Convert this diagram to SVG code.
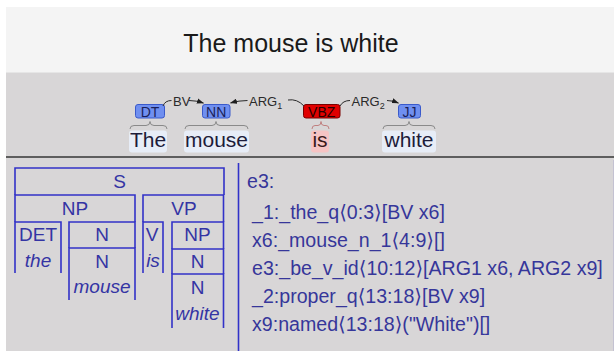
<svg xmlns="http://www.w3.org/2000/svg" width="614" height="351" viewBox="0 0 614 351">
  <style>
    .title { font-family: "Liberation Sans", Arial, sans-serif; font-size: 25px; fill: #1a1a1a; text-anchor: middle; }
    .word { font-family: "Liberation Sans", Arial, sans-serif; font-size: 21px; fill: #1c1c3a; text-anchor: middle; }
    .tag { stroke-width: 1; }
    .tag-nn { fill: #6f8ff0; stroke: #3a5acb; }
    .tag-vb { fill: #e00000; stroke: #7a0000; }
    .tagtext { font-family: "Liberation Sans", Arial, sans-serif; font-size: 14px; text-anchor: middle; fill: #1a1f5a; }
    .tagtext-vb { fill: #2a0000; }
    .wordbg { fill: #e7edf7; }
    .wordbg-vb { fill: #f6c4c4; }
    .brace { fill: none; stroke: #8a8a8a; stroke-width: 1; }
    .arc { fill: none; stroke: #2a2a2a; stroke-width: 1; }
    .arclabel { font-family: "Liberation Sans", Arial, sans-serif; font-size: 13px; fill: #2a2a2a; }
    .sub { font-size: 9px; }
    .cell { fill: none; stroke: #3232c8; stroke-width: 1.6; }
    .lbl { font-family: "Liberation Sans", Arial, sans-serif; font-size: 19px; fill: #3434a4; text-anchor: middle; }
    .lex { font-style: italic; }
    .mrs { font-family: "Liberation Sans", "DejaVu Sans", Arial, sans-serif; font-size: 19.6px; fill: #36369a; }
  </style>
  <defs>
    <marker id="arrow" viewBox="0 0 8 6" refX="7.5" refY="3" markerWidth="7" markerHeight="5.5" markerUnits="userSpaceOnUse" orient="auto">
      <path d="M0,0 L8,3 L0,6 Z" fill="#1e1e1e"/>
    </marker>
  </defs>

  <!-- page background and panels -->
  <rect x="0" y="0" width="614" height="351" fill="#ffffff"/>
  <rect x="6" y="7" width="608" height="65" fill="#f4f4f4"/>
  <rect x="6" y="72" width="608" height="279" fill="#d8d6d7"/>
  <line x1="6" y1="72.5" x2="614" y2="72.5" stroke="#e6e6e6" stroke-width="1"/>
  <line x1="6" y1="157" x2="614" y2="157" stroke="#5e5e5e" stroke-width="2.2"/>
  <line x1="613.5" y1="160" x2="613.5" y2="351" stroke="#c4c2d2" stroke-width="1"/>

  <!-- sentence title -->
  <text class="title" x="291" y="52">The mouse is white</text>

  <!-- dependency view: tokens with tags -->
  <g id="tok-the">
    <rect class="wordbg" x="129" y="130.5" width="38" height="22" rx="3"/>
    <text class="word" x="148" y="147">The</text>
    <path class="brace" d="M130,129 Q130,125.5 134,125.5 L146,125.5 Q150,125.5 150,121.5 Q150,125.5 154,125.5 L163,125.5 Q167,125.5 167,129"/>
    <rect class="tag tag-nn" x="135.5" y="104.5" width="29" height="13.5" rx="2.5"/>
    <text class="tagtext" x="150" y="116.5">DT</text>
  </g>
  <g id="tok-mouse">
    <rect class="wordbg" x="184" y="130.5" width="65" height="22" rx="3"/>
    <text class="word" x="216.5" y="147">mouse</text>
    <path class="brace" d="M185,129 Q185,125.5 189,125.5 L212,125.5 Q216,125.5 216,121.5 Q216,125.5 220,125.5 L244,125.5 Q248,125.5 248,129"/>
    <rect class="tag tag-nn" x="202.5" y="104.5" width="27.5" height="13.5" rx="2.5"/>
    <text class="tagtext" x="216.2" y="116.5">NN</text>
  </g>
  <g id="tok-is">
    <rect class="wordbg-vb" x="311" y="130.5" width="18" height="22" rx="3"/>
    <text class="word" x="320" y="147" style="fill:#3a1a1a">is</text>
    <path class="brace" d="M312,129 Q312,125.5 315,125.5 L318,125.5 Q321,125.5 321,121.5 Q321,125.5 324,125.5 L326,125.5 Q329,125.5 329,129" style="stroke:#c08080"/>
    <rect class="tag tag-vb" x="303.5" y="104.5" width="36.5" height="13.5" rx="2.5"/>
    <text class="tagtext tagtext-vb" x="321.7" y="116.5">VBZ</text>
  </g>
  <g id="tok-white">
    <rect class="wordbg" x="382" y="130.5" width="54" height="22" rx="3"/>
    <text class="word" x="409" y="147">white</text>
    <path class="brace" d="M383,129 Q383,125.5 387,125.5 L405,125.5 Q409,125.5 409,121.5 Q409,125.5 413,125.5 L431,125.5 Q435,125.5 435,129"/>
    <rect class="tag tag-nn" x="398.5" y="104.5" width="22" height="13.5" rx="2.5"/>
    <text class="tagtext" x="409.5" y="116.5">JJ</text>
  </g>

  <!-- dependency arcs -->
  <g id="arcs">
    <path class="arc" d="M163,106 Q165,100.5 171.5,100.5"/>
    <text class="arclabel" x="173" y="105.5">BV</text>
    <path class="arc" d="M189,100.5 Q196,100.5 203.5,103" marker-end="url(#arrow)"/>

    <path class="arc" d="M247.5,100.5 Q239,100.5 230.5,103" marker-end="url(#arrow)"/>
    <text class="arclabel" x="249" y="105.5">ARG<tspan class="sub" dy="3">1</tspan></text>
    <path class="arc" d="M288,100 Q297,98.5 304,106"/>

    <path class="arc" d="M340,106 Q343,100.5 350,100.5"/>
    <text class="arclabel" x="351.5" y="105.5">ARG<tspan class="sub" dy="3">2</tspan></text>
    <path class="arc" d="M387,100.5 Q392,100.5 398.5,103" marker-end="url(#arrow)"/>
  </g>

  <!-- phrase-structure tree -->
  <g id="node-S">
    <path class="cell" d="M15,195 V168 H224 V195"/>
    <text class="lbl" x="119.5" y="188">S</text>
  </g>
  <g id="node-NP">
    <path class="cell" d="M15,222 V195 H135 V222"/>
    <text class="lbl" x="75" y="215">NP</text>
  </g>
  <g id="node-VP">
    <path class="cell" d="M143,222 V195 H223.5 V222"/>
    <text class="lbl" x="184" y="215">VP</text>
  </g>
  <g id="node-DET">
    <path class="cell" d="M15,273 V222 H61 V273"/>
    <text class="lbl" x="38" y="241">DET</text>
    <text class="lbl lex" x="38" y="267">the</text>
  </g>
  <g id="node-N1">
    <path class="cell" d="M69,248 V222 H135 V248"/>
    <text class="lbl" x="102" y="241">N</text>
  </g>
  <g id="node-N2">
    <path class="cell" d="M69,300 V248 H135 V300"/>
    <text class="lbl" x="102" y="268">N</text>
    <text class="lbl lex" x="102" y="293">mouse</text>
  </g>
  <g id="node-V">
    <path class="cell" d="M143,273 V222 H163 V273"/>
    <text class="lbl" x="152" y="241">V</text>
    <text class="lbl lex" x="153" y="267">is</text>
  </g>
  <g id="node-NP2">
    <path class="cell" d="M172,249 V222 H223.5 V249"/>
    <text class="lbl" x="197.5" y="241">NP</text>
  </g>
  <g id="node-N3">
    <path class="cell" d="M172,274 V249 H223.5 V274"/>
    <text class="lbl" x="197.5" y="268">N</text>
  </g>
  <g id="node-N4">
    <path class="cell" d="M172,328 V274 H223.5 V328"/>
    <text class="lbl" x="197.5" y="294">N</text>
    <text class="lbl lex" x="197.5" y="320">white</text>
  </g>

  <!-- semantic representation -->
  <line x1="238.5" y1="163" x2="238.5" y2="351" stroke="#3232c8" stroke-width="1.6"/>
  <g id="mrs">
    <text class="mrs" x="247" y="188">e3:</text>
    <text class="mrs" x="252" y="219">_1:_the_q⟨0:3⟩[BV x6]</text>
    <text class="mrs" x="252" y="247">x6:_mouse_n_1⟨4:9⟩[]</text>
    <text class="mrs" x="252" y="275">e3:_be_v_id⟨10:12⟩[ARG1 x6, ARG2 x9]</text>
    <text class="mrs" x="252" y="303">_2:proper_q⟨13:18⟩[BV x9]</text>
    <text class="mrs" x="252" y="331">x9:named⟨13:18⟩("White")[]</text>
  </g>
</svg>
